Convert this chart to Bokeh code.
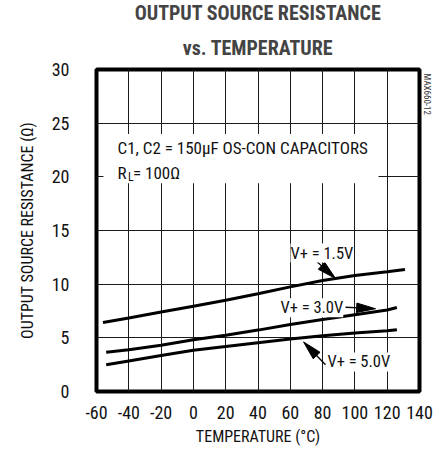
import math
from bokeh.plotting import figure
from bokeh.models import Range1d, Label, Title, FixedTicker, PrintfTickFormatter
from bokeh.embed import file_html
from bokeh.resources import INLINE

# ---- data ----
temp_15 = [-56, -40, -20, 0, 20, 40, 60, 80, 100, 120, 131]
res_15 = [6.43, 6.85, 7.4, 7.95, 8.5, 9.1, 9.75, 10.35, 10.8, 11.15, 11.36]

temp_30 = [-54, -40, -20, 0, 20, 40, 60, 80, 100, 120, 126]
res_30 = [3.66, 3.9, 4.3, 4.83, 5.25, 5.72, 6.25, 6.7, 7.15, 7.6, 7.82]

temp_50 = [-54, -40, -20, 0, 20, 40, 60, 80, 100, 120, 126]
res_50 = [2.5, 2.85, 3.35, 3.85, 4.2, 4.55, 4.9, 5.2, 5.45, 5.65, 5.75]

x_ticks = [-60, -40, -20, 0, 20, 40, 60, 80, 100, 120, 140]
y_ticks = [0, 5, 10, 15, 20, 25, 30]

title_line1 = "OUTPUT SOURCE RESISTANCE"
title_line2 = "vs. TEMPERATURE"
x_label = "TEMPERATURE (°C)"
y_label = "OUTPUT SOURCE RESISTANCE (Ω)"
figure_code = "MAX660-12"

FONT = "Roboto Condensed, Liberation Sans Narrow, DejaVu Sans Condensed, sans-serif"

W, H = 436, 448
BL, BR, BT, BB = 96, 16, 69, 55

p = figure(width=W, height=H, output_backend="svg", toolbar_location=None,
           x_range=Range1d(-60, 140), y_range=Range1d(0, 30),
           min_border_left=BL, min_border_right=BR,
           min_border_top=BT, min_border_bottom=BB,
           title=title_line1)

p.title.text_font = FONT
p.title.text_font_size = "20px"
p.title.text_font_style = "bold"
p.title.align = "center"
p.title.standoff = -3
p.add_layout(Title(text=title_line2, text_font=FONT, text_font_size="20px",
                   text_font_style="bold", align="center", offset=-12,
                   standoff=20), "above")

# small figure code at the right edge
p.add_layout(Title(text=figure_code, text_font=FONT, text_font_size="9px",
                   text_font_style="normal", text_color="#333333",
                   align="left", offset=4, standoff=5), "right")

p.background_fill_color = "white"
p.border_fill_color = "white"
p.outline_line_color = "black"
p.outline_line_width = 4

p.xaxis.ticker = FixedTicker(ticks=x_ticks)
p.yaxis.ticker = FixedTicker(ticks=y_ticks)
p.xaxis.formatter = PrintfTickFormatter(format="%d")
p.yaxis.formatter = PrintfTickFormatter(format="%d")
for ax in (p.xaxis, p.yaxis):
    ax.axis_line_color = None
    ax.major_tick_line_color = None
    ax.minor_tick_line_color = None
    ax.major_label_text_font = FONT
    ax.major_label_text_font_size = "18px"
    ax.major_label_text_color = "#111111"
    ax.axis_label_text_font = FONT
    ax.axis_label_text_font_size = "16px"
    ax.axis_label_text_font_style = "normal"
    ax.axis_label_text_color = "#111111"
p.xaxis.axis_label = x_label
p.yaxis.axis_label = y_label
p.xaxis.major_label_standoff = 8
p.yaxis.major_label_standoff = 21
p.xaxis.axis_label_standoff = 5
p.yaxis.axis_label_standoff = 12

p.xgrid.grid_line_color = "#1a1a1a"
p.ygrid.grid_line_color = "#1a1a1a"
p.xgrid.grid_line_width = 1
p.ygrid.grid_line_width = 1

# white box behind the conditions note (hides the grid there)
note_box = dict(left=-55.7, right=114.6, bottom=19.4, top=24.0)
p.quad(left=[note_box["left"]], right=[note_box["right"]],
       bottom=[note_box["bottom"]], top=[note_box["top"]],
       fill_color="white", line_color=None)

for t, r in ((temp_15, res_15), (temp_30, res_30), (temp_50, res_50)):
    p.line(t, r, line_width=3, line_color="black")

# ---- annotations ----
def lab(x, y, text, size="16.5px", **kw):
    p.add_layout(Label(x=x, y=y, text=text, text_font=FONT, text_font_size=size,
                       text_baseline="middle", text_color="#111111", **kw))

lab(-47, 22.7, "C1, C2 = 150µF OS-CON CAPACITORS", size="17px")
lab(-47, 20.4, "R", size="17px")
lab(-47, 20.4, "L", size="12px", x_offset=10.5, y_offset=-4)
lab(-47, 20.4, " = 100Ω", size="17px", x_offset=15.5)

lab(60.1, 12.9, "V+ = 1.5V", background_fill_color="white")
lab(53.9, 7.8, "V+ = 3.0V", background_fill_color="white")
lab(83.0, 2.75, "V+ = 5.0V", background_fill_color="white")

# arrows: (start, tip) in data units
arrows = [((73.1, 12.56), (88.0, 10.53)),
          ((94.2, 7.85), (112.8, 7.71)),
          ((81.8, 2.49), (68.2, 4.62))]
sx = (W - BL - BR) / 200.0
sy = (H - BT - BB) / 30.0
head_len, head_w = 19.0, 9.5
xs_heads, ys_heads = [], []
for (x0, y0), (x1, y1) in arrows:
    dx, dy = (x1 - x0) * sx, (y1 - y0) * sy
    n = math.hypot(dx, dy)
    ux, uy = dx / n, dy / n
    bx, by = -ux * head_len, -uy * head_len
    px_, py_ = -uy * head_w / 2, ux * head_w / 2
    xs_heads.append([x1, x1 + (bx + px_) / sx, x1 + (bx - px_) / sx])
    ys_heads.append([y1, y1 + (by + py_) / sy, y1 + (by - py_) / sy])
    p.segment(x0=[x0], y0=[y0], x1=[x1 + bx * 0.9 / sx], y1=[y1 + by * 0.9 / sy],
              line_color="black", line_width=1.3)
p.patches(xs_heads, ys_heads, fill_color="black", line_color="black", line_width=1)

open("out.html", "w").write(file_html(p, INLINE))
